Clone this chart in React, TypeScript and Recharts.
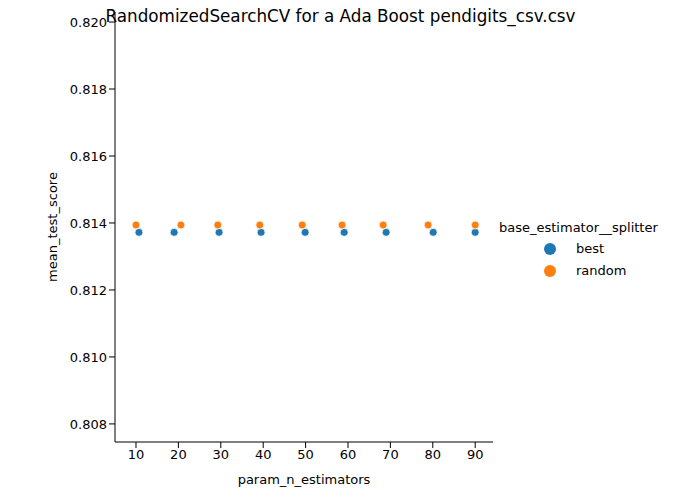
import { ScatterChart, XAxis, YAxis, Scatter, Label } from 'recharts';

const bestX = [10.7, 19, 29.6, 39.5, 49.9, 59.1, 69, 80.1, 90];
const bestY = [0.81372, 0.81372, 0.81372, 0.81372, 0.81372, 0.81372, 0.81372, 0.81372, 0.81372];
const randomX = [10, 20.6, 29.3, 39.2, 49.2, 58.6, 68.3, 78.9, 90];
const randomY = [0.81394, 0.81394, 0.81394, 0.81394, 0.81394, 0.81394, 0.81394, 0.81394, 0.81394];
const xTicks = [10, 20, 30, 40, 50, 60, 70, 80, 90];
const yTicks = [0.808, 0.81, 0.812, 0.814, 0.816, 0.818, 0.82];

const best = bestX.map((x, i) => ({ x, y: bestY[i] }));
const random = randomX.map((x, i) => ({ x, y: randomY[i] }));
const font = 'DejaVu Sans';
const tick = { fill: '#000', fontSize: 13, fontFamily: font };

export default function App() {
  return (
    <div style={{ position: 'absolute', left: 0, top: 0, width: 681, height: 500, background: '#fff', fontFamily: font }}>
      <ScatterChart width={681} height={500} margin={{ top: 12, right: 188, bottom: 0, left: 20 }}>
        <XAxis type="number" dataKey="x" domain={[5.05, 94.2]} ticks={xTicks} tick={tick}
          stroke="#000" tickLine={{ stroke: '#000' }} height={58} allowDataOverflow>
          <Label value="param_n_estimators" position="insideBottom" offset={16} style={{ fill: '#000', fontSize: 13, fontFamily: font }} />
        </XAxis>
        <YAxis type="number" dataKey="y" domain={[0.80746, 0.8203]} ticks={yTicks} tick={tick}
          tickFormatter={(v: number) => v.toFixed(3)} stroke="#000" width={95} allowDataOverflow>
          <Label value="mean_test_score" angle={-90} position="insideLeft" offset={32} style={{ textAnchor: 'middle', fill: '#000', fontSize: 13, fontFamily: font }} />
        </YAxis>
        <Scatter data={best} fill="#1f77b4" isAnimationActive={false}
          shape={(p: any) => <circle cx={p.cx} cy={p.cy} r={4} fill="#1f77b4" stroke="#fff" strokeWidth={0.8} />} />
        <Scatter data={random} fill="#ff7f0e" isAnimationActive={false}
          shape={(p: any) => <circle cx={p.cx} cy={p.cy} r={4} fill="#ff7f0e" stroke="#fff" strokeWidth={0.8} />} />
      </ScatterChart>
      <div style={{ position: 'absolute', top: 6, left: 0, width: 681, textAlign: 'center', fontSize: 16.8 }}>
        RandomizedSearchCV for a Ada Boost pendigits_csv.csv
      </div>
      <div style={{ position: 'absolute', left: 499, top: 220, fontSize: 13 }}>base_estimator__splitter</div>
      {[['best', '#1f77b4', 241], ['random', '#ff7f0e', 263]].map(([n, c, t]) => (
        <div key={n as string} style={{ position: 'absolute', left: 544, top: t as number, fontSize: 13, display: 'flex', alignItems: 'center' }}>
          <span style={{ width: 12, height: 12, borderRadius: 6, background: c as string, display: 'inline-block', marginRight: 20 }} />
          {n}
        </div>
      ))}
    </div>
  );
}
